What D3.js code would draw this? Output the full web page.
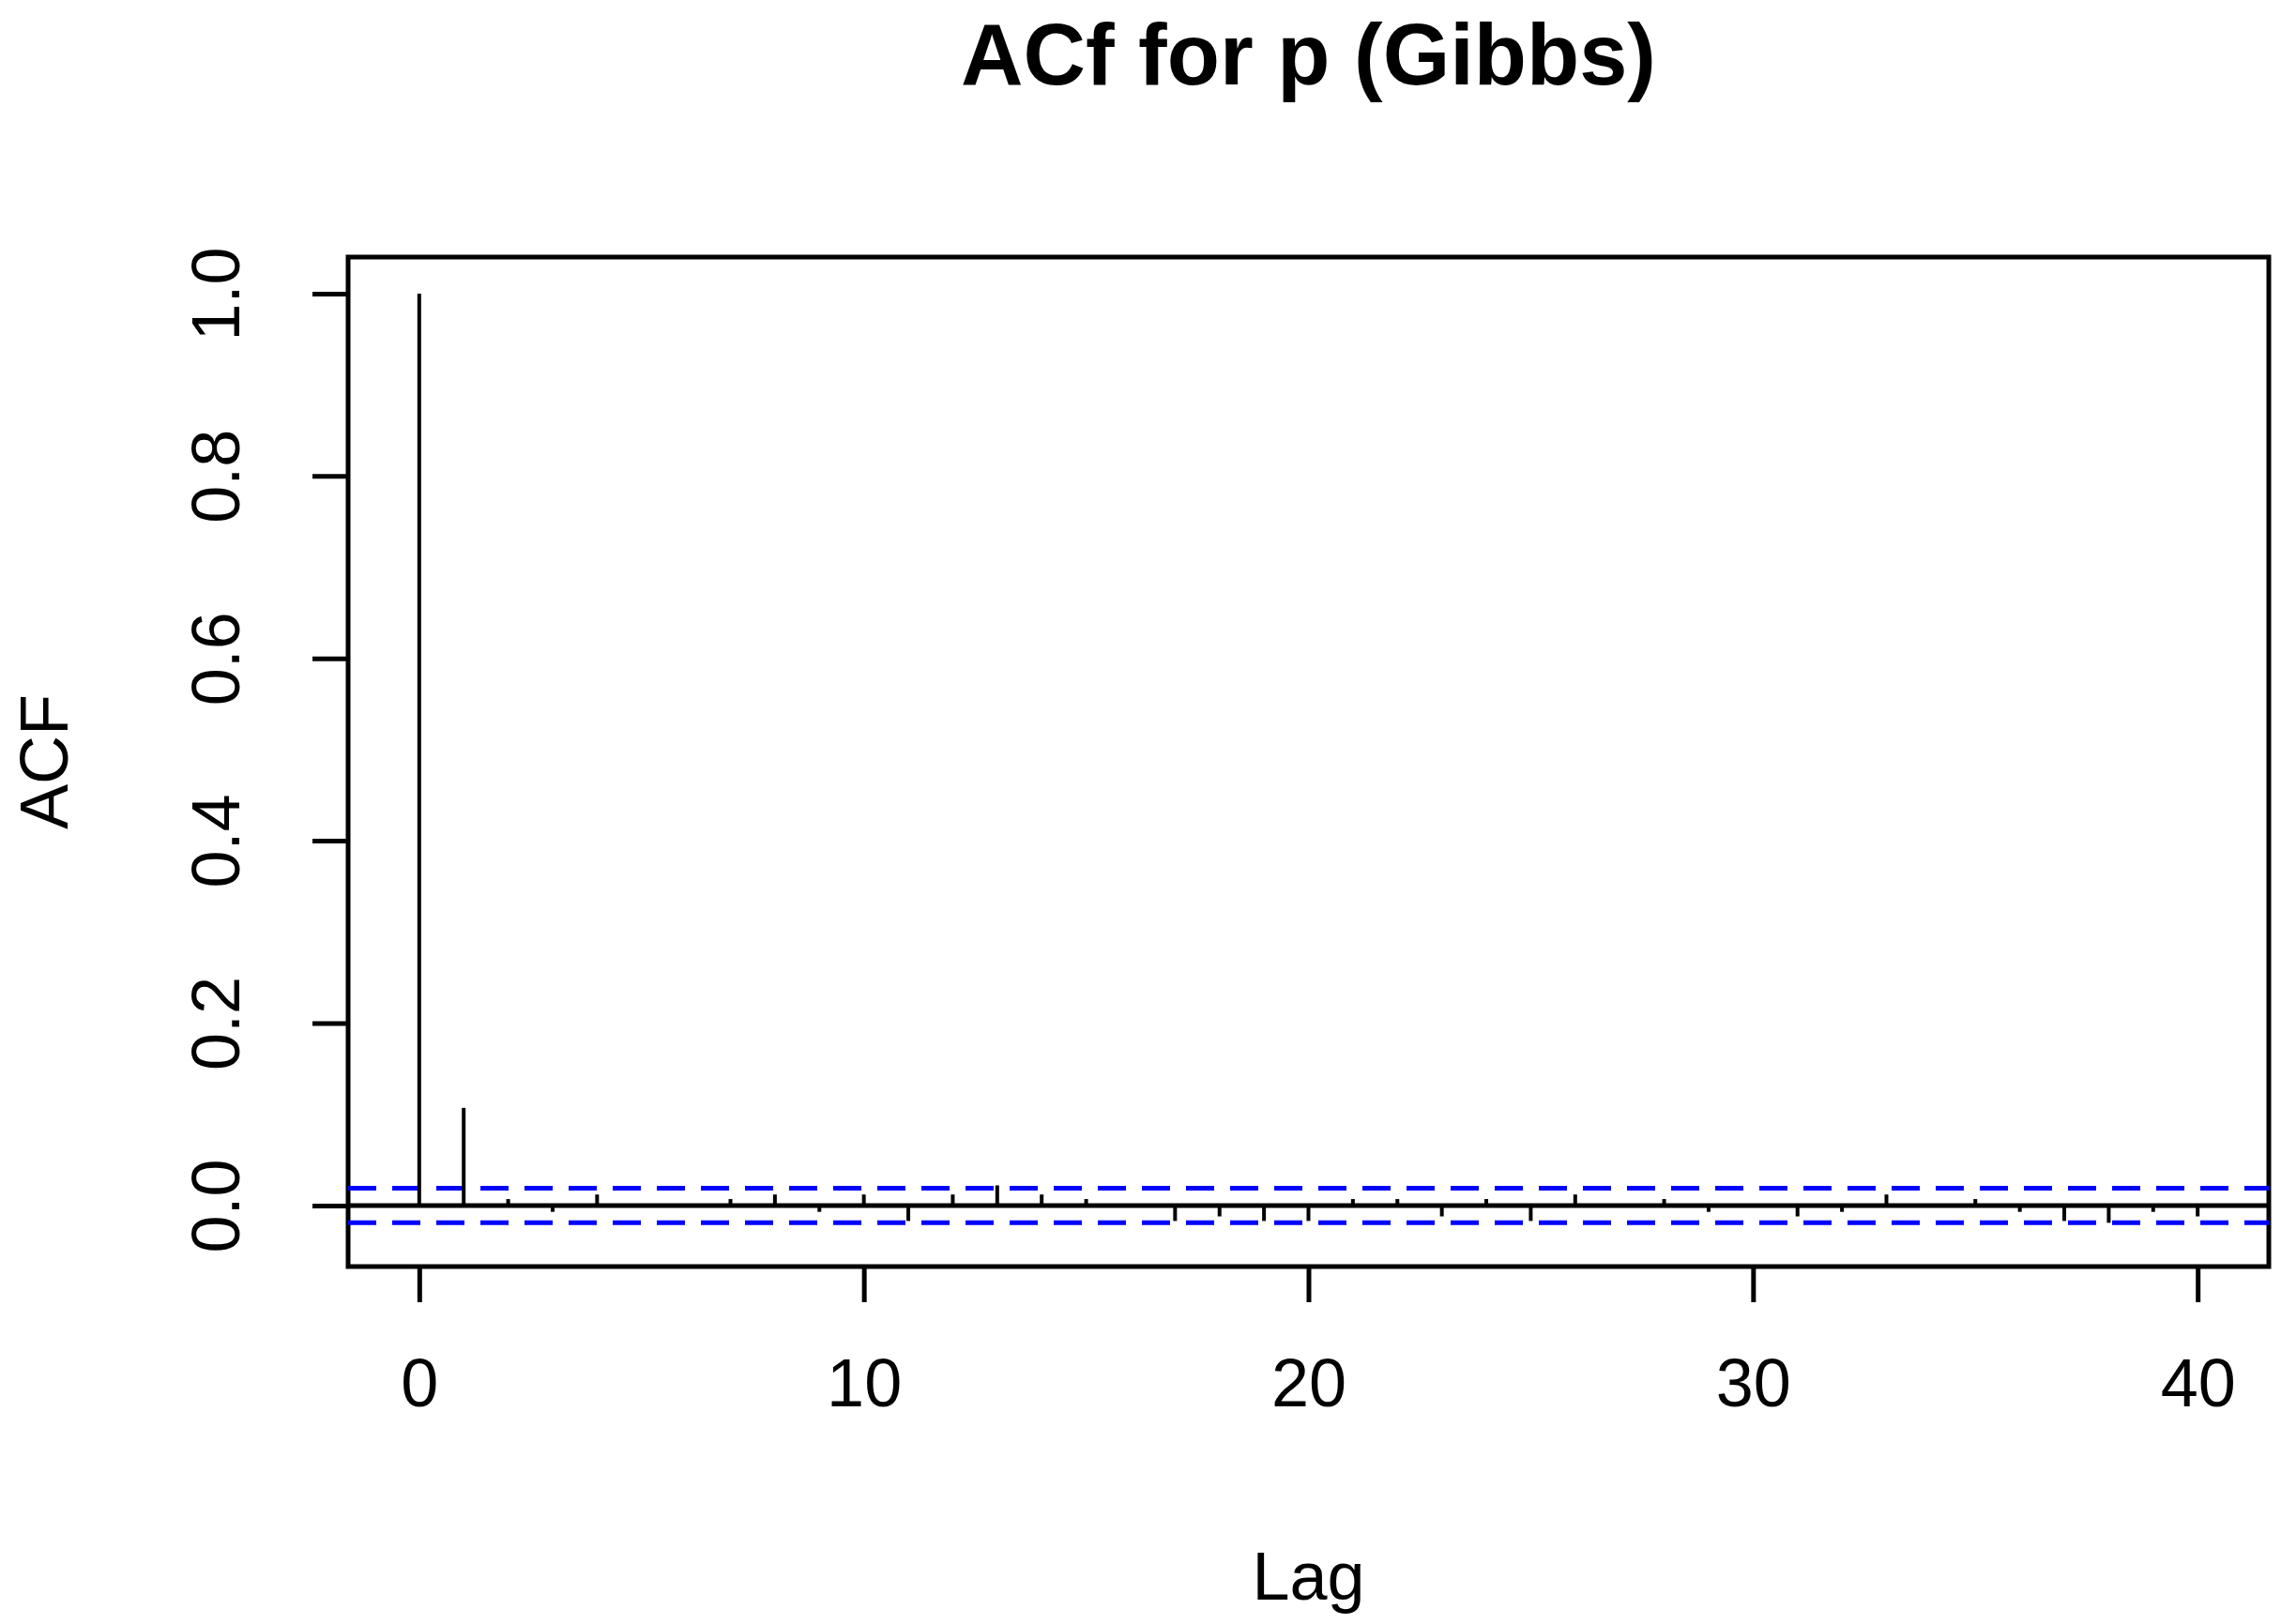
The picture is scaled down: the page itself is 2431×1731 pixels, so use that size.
<!DOCTYPE html>
<html>
<head>
<meta charset="utf-8">
<script src="https://cdn.jsdelivr.net/npm/d3@7"></script>
<style>
  body { margin: 0; background: #fff; }
  text { font-family: "Liberation Sans", Arial, sans-serif; }
</style>
</head>
<body>
<div id="canvas"></div>
<script>
// acf values for lags 0..40
var lags = d3.range(0, 41);
var acfValues = [1.0, 0.107, 0.007, -0.007, 0.012, 0, 0, 0.007, 0.012, -0.007,
  0.012, -0.017, 0.012, 0.022, 0.012, 0.007, 0, -0.017, -0.012, -0.017,
  -0.017, 0.007, 0.007, -0.012, 0.007, -0.017, 0.012, 0, 0.007, -0.007,
  0, -0.012, -0.007, 0.012, 0, 0.007, -0.007, -0.017, -0.019, -0.007, -0.012];
var ciBound = 0.019;
var xTicks = [0, 10, 20, 30, 40];
var yTicks = [0, 0.2, 0.4, 0.6, 0.8, 1.0];

var W = 2431, H = 1731;
var box = { left: 371, right: 2418, top: 274, bottom: 1350 };

var svg = d3.select("#canvas").append("svg")
  .attr("width", W).attr("height", H);

var x = d3.scaleLinear().domain([-1.6, 41.6]).range([box.left, box.right]);
var y = d3.scaleLinear().domain([-0.067, 1.04]).range([box.bottom, box.top]);

// axes
var xAxis = svg.append("g")
  .attr("transform", "translate(0," + box.bottom + ")")
  .call(d3.axisBottom(x).tickValues(xTicks).tickSize(38).tickPadding(60).tickFormat(d3.format("d")));
var yAxis = svg.append("g")
  .attr("transform", "translate(" + box.left + ",0)")
  .call(d3.axisLeft(y).tickValues(yTicks).tickSize(38).tickFormat(d3.format(".1f")));
[xAxis, yAxis].forEach(function (a) {
  a.select(".domain").remove();
  a.selectAll("line").attr("stroke", "#000").attr("stroke-width", 5);
  a.selectAll("text").attr("font-size", 72).attr("fill", "#000");
});
yAxis.selectAll(".tick text")
  .attr("x", 0).attr("dy", 0)
  .attr("text-anchor", "middle")
  .attr("transform", "translate(-135,0) rotate(-90)")
  .attr("dominant-baseline", "middle");
xAxis.selectAll(".tick text").attr("dy", "0.71em");

// box
svg.append("rect")
  .attr("x", box.left).attr("y", box.top)
  .attr("width", box.right - box.left).attr("height", box.bottom - box.top)
  .attr("fill", "none").attr("stroke", "#000").attr("stroke-width", 5);

// zero line
svg.append("line")
  .attr("x1", box.left).attr("x2", box.right)
  .attr("y1", y(0)).attr("y2", y(0))
  .attr("stroke", "#000").attr("stroke-width", 5);

// confidence bounds
[ciBound, -ciBound].forEach(function (b) {
  svg.append("line")
    .attr("x1", box.left).attr("x2", box.right)
    .attr("y1", y(b)).attr("y2", y(b))
    .attr("stroke", "#0000ff").attr("stroke-width", 5)
    .attr("stroke-dasharray", "30,17");
});

// acf spikes
svg.append("g").selectAll("line")
  .data(lags)
  .enter().append("line")
  .attr("x1", function (d) { return x(d); })
  .attr("x2", function (d) { return x(d); })
  .attr("y1", y(0))
  .attr("y2", function (d) { return y(acfValues[d]); })
  .attr("stroke", "#000").attr("stroke-width", 4);

// labels
svg.append("text")
  .attr("x", (box.left + box.right) / 2).attr("y", 90)
  .attr("text-anchor", "middle").attr("font-size", 92).attr("font-weight", "bold")
  .text("ACf for p (Gibbs)");
svg.append("text")
  .attr("x", (box.left + box.right) / 2).attr("y", 1705)
  .attr("text-anchor", "middle").attr("font-size", 72)
  .text("Lag");
svg.append("text")
  .attr("transform", "translate(72," + (box.top + box.bottom) / 2 + ") rotate(-90)")
  .attr("text-anchor", "middle").attr("font-size", 72)
  .text("ACF");
</script>
</body>
</html>
